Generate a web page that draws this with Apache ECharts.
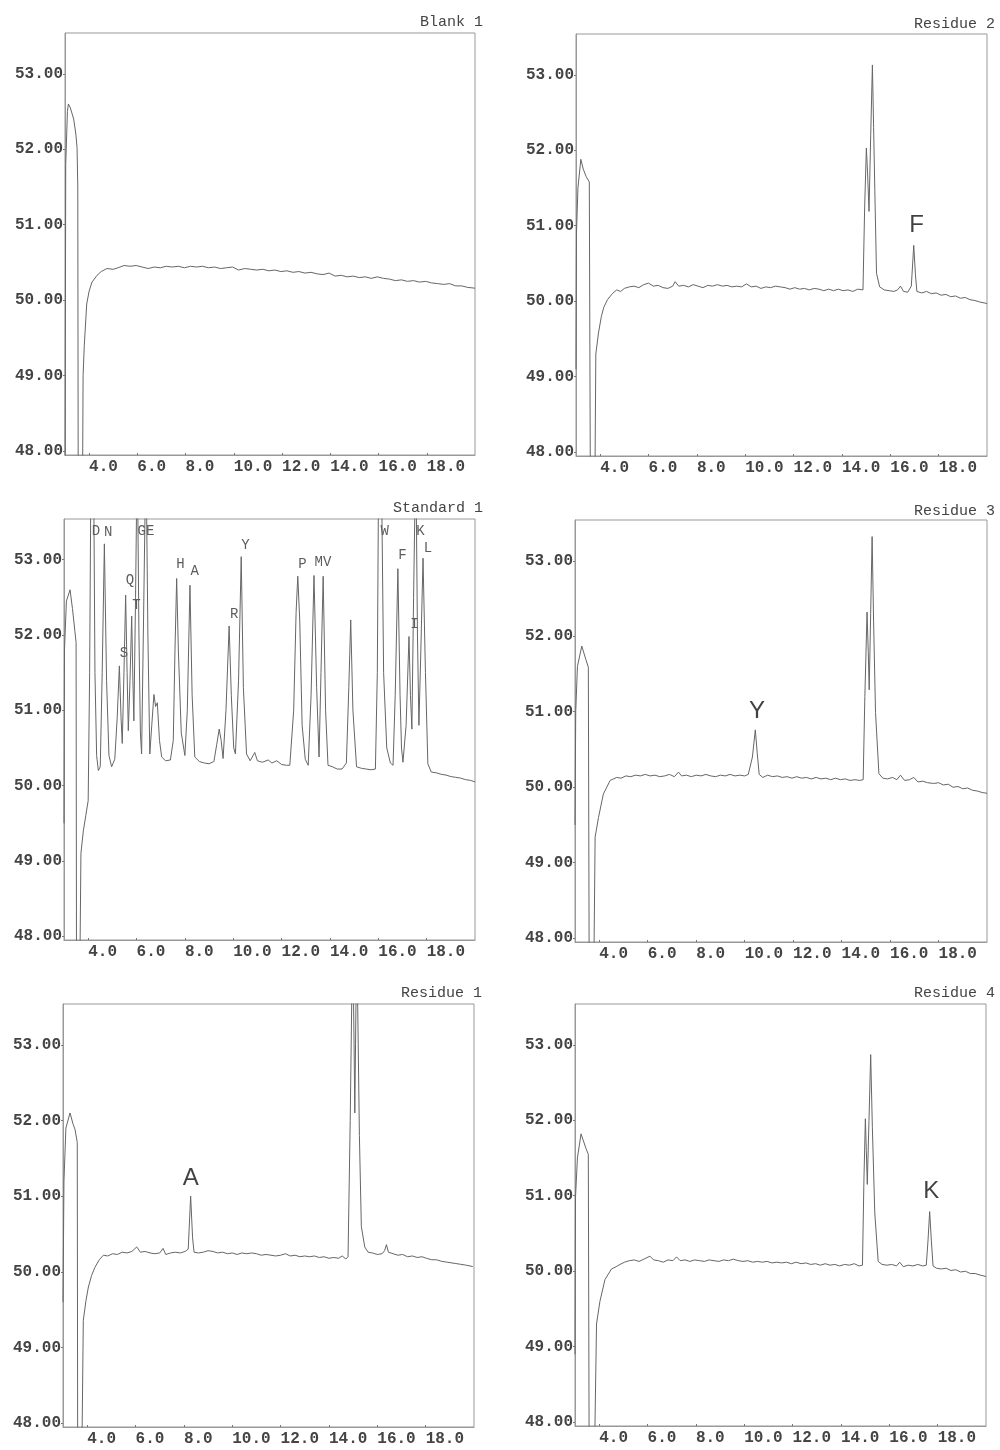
<!DOCTYPE html>
<html>
<head>
<meta charset="utf-8">
<title>Chromatograms</title>
<script src="https://cdn.jsdelivr.net/npm/echarts@6/dist/echarts.min.js"></script>
<style>
  html, body { margin: 0; padding: 0; background: #fff; }
  #main { width: 1000px; height: 1450px; }
</style>
</head>
<body>
<div id="main"></div>
<script>
// 坐标轴刻度
const timeTicks = [4, 6, 8, 10, 12, 14, 16, 18]
const signalTicks = [48, 49, 50, 51, 52, 53]

const panelTitles = ['Blank 1', 'Residue 2', 'Standard 1', 'Residue 3', 'Residue 1', 'Residue 4']

// 各色谱图 [时间, 信号]
const blank1 = [
  [3.0, 47.5], [3.03, 51.8], [3.1, 52.5], [3.14, 52.6], [3.22, 52.55], [3.36, 52.4], [3.45, 52.2], [3.5, 52.02],
  [3.53, 51.5], [3.55, 47.0], [3.72, 47.0], [3.75, 49.0], [3.8, 49.4], [3.9, 49.95], [4.0, 50.12], [4.12, 50.24],
  [4.33, 50.33], [4.5, 50.38], [4.74, 50.42], [5.0, 50.41], [5.2, 50.43], [5.45, 50.46], [5.7, 50.45], [5.95, 50.46],
  [6.2, 50.44], [6.45, 50.42], [6.7, 50.44], [6.95, 50.43], [7.2, 50.45], [7.45, 50.44], [7.7, 50.45], [7.95, 50.43],
  [8.2, 50.45], [8.45, 50.44], [8.7, 50.45], [8.95, 50.43], [9.2, 50.44], [9.45, 50.42], [9.7, 50.43], [9.95, 50.44],
  [10.2, 50.4], [10.45, 50.42], [10.7, 50.41], [10.95, 50.4], [11.2, 50.41], [11.45, 50.39], [11.7, 50.4],
  [11.95, 50.38], [12.2, 50.39], [12.45, 50.37], [12.7, 50.38], [12.95, 50.36], [13.2, 50.37], [13.45, 50.35],
  [13.7, 50.34], [13.95, 50.36], [14.2, 50.32], [14.45, 50.33], [14.7, 50.31], [14.95, 50.32], [15.2, 50.3],
  [15.45, 50.31], [15.7, 50.29], [15.95, 50.31], [16.2, 50.29], [16.45, 50.28], [16.7, 50.26], [16.95, 50.27],
  [17.2, 50.25], [17.45, 50.26], [17.7, 50.24], [17.95, 50.25], [18.2, 50.23], [18.45, 50.22], [18.7, 50.21],
  [18.95, 50.22], [19.2, 50.19], [19.45, 50.19], [19.7, 50.17], [20.0, 50.16]
]

const residue2 = [
  [3.0, 49.1], [3.02, 50.9], [3.08, 51.5], [3.2, 51.88], [3.3, 51.75], [3.42, 51.65], [3.55, 51.58], [3.6, 47.0],
  [3.77, 47.0], [3.82, 49.3], [3.93, 49.58], [4.05, 49.8], [4.15, 49.92], [4.3, 50.02], [4.5, 50.1], [4.68, 50.15],
  [4.85, 50.13], [5.0, 50.17], [5.2, 50.19], [5.4, 50.2], [5.6, 50.18], [5.8, 50.22], [6.0, 50.24], [6.2, 50.2],
  [6.4, 50.21], [6.6, 50.18], [6.8, 50.17], [7.0, 50.2], [7.1, 50.26], [7.25, 50.2], [7.45, 50.21], [7.65, 50.19],
  [7.85, 50.22], [8.05, 50.2], [8.25, 50.18], [8.45, 50.21], [8.65, 50.2], [8.85, 50.22], [9.05, 50.2], [9.25, 50.21],
  [9.45, 50.19], [9.65, 50.2], [9.85, 50.19], [10.05, 50.23], [10.25, 50.19], [10.45, 50.2], [10.65, 50.17],
  [10.85, 50.19], [11.05, 50.18], [11.25, 50.2], [11.45, 50.19], [11.65, 50.18], [11.85, 50.16], [12.05, 50.18],
  [12.25, 50.16], [12.45, 50.17], [12.65, 50.15], [12.85, 50.17], [13.05, 50.16], [13.25, 50.14], [13.45, 50.16],
  [13.65, 50.14], [13.85, 50.16], [14.05, 50.14], [14.25, 50.15], [14.45, 50.13], [14.65, 50.16], [14.87, 50.15],
  [14.94, 51.25], [15.01, 52.03], [15.06, 51.7], [15.12, 51.19], [15.19, 52.2], [15.26, 53.13], [15.31, 52.3],
  [15.36, 51.47], [15.43, 50.37], [15.56, 50.19], [15.75, 50.15], [15.95, 50.14], [16.15, 50.13], [16.3, 50.15],
  [16.42, 50.2], [16.55, 50.13], [16.72, 50.12], [16.87, 50.2], [16.97, 50.74], [17.04, 50.35], [17.1, 50.13],
  [17.3, 50.11], [17.5, 50.13], [17.7, 50.1], [17.9, 50.11], [18.1, 50.08], [18.3, 50.09], [18.5, 50.06],
  [18.7, 50.07], [18.9, 50.04], [19.1, 50.05], [19.3, 50.02], [19.5, 50.01], [19.7, 49.99], [20.0, 49.97]
]

const standard1 = [
  [3.0, 49.5], [3.02, 51.8], [3.1, 52.45], [3.25, 52.6], [3.35, 52.35], [3.45, 52.05], [3.5, 51.9], [3.52, 47.0],
  [3.64, 47.0], [3.7, 49.1], [3.8, 49.4], [3.9, 49.6], [4.0, 49.8], [4.06, 51.5], [4.12, 54.5], [4.22, 54.5],
  [4.28, 51.5], [4.35, 50.4], [4.42, 50.2], [4.5, 50.25], [4.58, 51.5], [4.67, 53.21], [4.76, 51.4], [4.86, 50.4],
  [4.97, 50.25], [5.1, 50.35], [5.2, 50.9], [5.29, 51.59], [5.36, 50.9], [5.41, 50.56], [5.48, 51.5], [5.55, 52.53],
  [5.61, 51.5], [5.66, 50.73], [5.73, 51.4], [5.8, 52.25], [5.85, 51.4], [5.89, 50.86], [5.96, 52.5], [6.03, 54.5],
  [6.1, 52.0], [6.16, 50.7], [6.21, 50.42], [6.29, 52.2], [6.39, 54.5], [6.47, 52.0], [6.55, 50.42], [6.63, 50.8],
  [6.72, 51.21], [6.79, 51.05], [6.86, 51.1], [6.95, 50.6], [7.04, 50.38], [7.2, 50.33], [7.4, 50.34], [7.52, 50.6],
  [7.59, 51.8], [7.66, 52.75], [7.73, 51.8], [7.85, 50.7], [8.0, 50.4], [8.1, 51.0], [8.21, 52.66], [8.3, 51.2],
  [8.41, 50.38], [8.6, 50.32], [8.8, 50.3], [9.0, 50.29], [9.2, 50.32], [9.32, 50.55], [9.42, 50.75], [9.5, 50.6],
  [9.58, 50.36], [9.7, 51.0], [9.83, 52.12], [9.92, 51.2], [10.02, 50.5], [10.09, 50.42], [10.22, 51.4],
  [10.33, 53.04], [10.42, 51.3], [10.55, 50.42], [10.7, 50.33], [10.89, 50.44], [11.0, 50.33], [11.2, 50.31],
  [11.45, 50.34], [11.6, 50.3], [11.8, 50.33], [12.0, 50.28], [12.2, 50.27], [12.34, 50.27], [12.5, 51.0],
  [12.6, 52.3], [12.67, 52.78], [12.75, 52.2], [12.85, 50.8], [12.98, 50.35], [13.1, 50.27], [13.22, 51.2],
  [13.34, 52.79], [13.45, 51.3], [13.55, 50.38], [13.63, 51.5], [13.72, 52.78], [13.82, 51.0], [13.92, 50.27],
  [14.1, 50.25], [14.3, 50.22], [14.5, 50.22], [14.68, 50.3], [14.78, 51.3], [14.86, 52.2], [14.95, 51.0],
  [15.1, 50.25], [15.3, 50.23], [15.5, 50.22], [15.7, 50.21], [15.88, 50.22], [15.96, 51.5], [16.02, 54.5],
  [16.12, 54.5], [16.22, 51.5], [16.35, 50.5], [16.5, 50.3], [16.61, 50.27], [16.7, 51.2], [16.81, 52.88],
  [16.9, 51.2], [16.96, 50.5], [17.02, 50.31], [17.15, 50.8], [17.27, 51.98], [17.33, 51.2], [17.39, 50.75],
  [17.46, 52.5], [17.55, 54.5], [17.62, 52.0], [17.68, 50.8], [17.76, 51.8], [17.85, 53.02], [17.95, 51.5],
  [18.05, 50.29], [18.19, 50.18], [18.4, 50.17], [18.6, 50.15], [18.8, 50.14], [19.0, 50.12], [19.2, 50.11],
  [19.4, 50.1], [19.6, 50.08], [19.8, 50.07], [20.0, 50.05]
]

const residue3 = [
  [3.0, 49.5], [3.03, 51.0], [3.1, 51.6], [3.28, 51.87], [3.45, 51.69], [3.55, 51.59], [3.59, 47.0],
  [3.76, 47.0], [3.83, 49.34], [3.97, 49.6], [4.17, 49.91], [4.45, 50.09], [4.72, 50.13], [4.9, 50.12],
  [5.1, 50.15], [5.3, 50.14], [5.5, 50.16], [5.7, 50.15], [5.9, 50.17], [6.1, 50.15], [6.3, 50.16],
  [6.5, 50.14], [6.7, 50.15], [6.9, 50.17], [7.1, 50.14], [7.27, 50.2], [7.4, 50.15], [7.6, 50.16], [7.8, 50.14],
  [8.0, 50.16], [8.2, 50.15], [8.4, 50.17], [8.6, 50.15], [8.8, 50.14], [9.0, 50.16], [9.2, 50.15], [9.4, 50.17],
  [9.6, 50.15], [9.8, 50.16], [10.0, 50.15], [10.15, 50.17], [10.32, 50.4], [10.44, 50.76], [10.52, 50.45],
  [10.6, 50.17], [10.75, 50.13], [10.95, 50.16], [11.15, 50.14], [11.35, 50.15], [11.55, 50.13], [11.75, 50.14],
  [11.95, 50.12], [12.15, 50.14], [12.35, 50.12], [12.55, 50.13], [12.75, 50.11], [12.95, 50.13], [13.15, 50.11],
  [13.35, 50.12], [13.55, 50.1], [13.75, 50.12], [13.95, 50.1], [14.15, 50.11], [14.35, 50.09], [14.55, 50.1],
  [14.75, 50.09], [14.89, 50.1], [14.96, 51.2], [15.05, 52.32], [15.1, 51.8], [15.14, 51.29], [15.2, 52.3],
  [15.26, 53.32], [15.32, 52.2], [15.4, 50.99], [15.54, 50.18], [15.7, 50.12], [15.9, 50.11], [16.1, 50.13],
  [16.28, 50.1], [16.43, 50.16], [16.6, 50.09], [16.8, 50.1], [16.98, 50.13], [17.15, 50.07], [17.35, 50.08],
  [17.55, 50.06], [17.8, 50.05], [18.0, 50.06], [18.2, 50.03], [18.4, 50.04], [18.6, 50.0], [18.8, 50.01],
  [19.0, 49.98], [19.2, 49.99], [19.4, 49.96], [19.6, 49.95], [19.8, 49.93], [20.0, 49.92]
]

const residue1 = [
  [3.0, 49.6], [3.04, 51.2], [3.12, 51.9], [3.29, 52.1], [3.42, 51.95], [3.5, 51.88], [3.59, 51.71], [3.61, 47.0],
  [3.76, 47.0], [3.84, 49.36], [3.95, 49.62], [4.05, 49.8], [4.18, 49.95], [4.32, 50.06], [4.5, 50.16], [4.67, 50.22],
  [4.85, 50.21], [5.05, 50.24], [5.25, 50.23], [5.45, 50.26], [5.65, 50.25], [5.85, 50.27], [6.05, 50.33], [6.2, 50.26],
  [6.4, 50.27], [6.6, 50.25], [6.8, 50.24], [7.0, 50.25], [7.14, 50.31], [7.25, 50.23], [7.45, 50.25], [7.65, 50.26],
  [7.85, 50.25], [8.05, 50.27], [8.18, 50.3], [8.28, 51.0], [8.36, 50.45], [8.42, 50.26], [8.6, 50.25], [8.8, 50.26],
  [9.0, 50.28], [9.2, 50.27], [9.4, 50.25], [9.6, 50.26], [9.8, 50.24], [10.0, 50.25], [10.2, 50.23], [10.4, 50.25],
  [10.6, 50.24], [10.8, 50.25], [11.0, 50.24], [11.2, 50.22], [11.4, 50.23], [11.6, 50.22], [11.8, 50.21], [12.0, 50.22],
  [12.2, 50.24], [12.4, 50.21], [12.6, 50.22], [12.8, 50.2], [13.0, 50.21], [13.2, 50.2], [13.4, 50.21], [13.6, 50.19],
  [13.8, 50.2], [14.0, 50.18], [14.2, 50.19], [14.4, 50.18], [14.55, 50.21], [14.7, 50.17], [14.79, 50.2],
  [14.88, 52.0], [14.98, 54.5], [15.04, 53.0], [15.07, 52.1], [15.1, 53.0], [15.15, 54.5], [15.26, 51.8],
  [15.34, 50.6], [15.48, 50.33], [15.62, 50.26], [15.8, 50.25], [16.0, 50.23], [16.2, 50.24], [16.3, 50.28],
  [16.38, 50.36], [16.46, 50.26], [16.65, 50.24], [16.85, 50.22], [17.05, 50.23], [17.25, 50.2], [17.45, 50.21],
  [17.65, 50.19], [17.85, 50.2], [18.03, 50.18], [18.25, 50.16], [18.45, 50.16], [18.65, 50.14], [18.85, 50.13],
  [19.05, 50.12], [19.25, 50.11], [19.45, 50.1], [19.65, 50.09], [19.95, 50.07]
]

const residue4 = [
  [3.0, 48.9], [3.02, 50.97], [3.1, 51.5], [3.25, 51.82], [3.45, 51.63], [3.55, 51.55], [3.59, 47.0],
  [3.78, 47.0], [3.89, 49.3], [4.03, 49.6], [4.24, 49.89], [4.51, 50.03], [4.7, 50.06], [4.86, 50.09],
  [5.05, 50.12], [5.25, 50.14], [5.45, 50.15], [5.65, 50.13], [5.85, 50.16], [6.1, 50.2], [6.25, 50.15],
  [6.45, 50.14], [6.65, 50.12], [6.85, 50.15], [7.05, 50.14], [7.2, 50.19], [7.35, 50.14], [7.55, 50.15],
  [7.75, 50.13], [7.95, 50.15], [8.15, 50.14], [8.35, 50.13], [8.55, 50.15], [8.75, 50.14], [8.95, 50.13],
  [9.15, 50.15], [9.35, 50.14], [9.55, 50.16], [9.75, 50.14], [9.95, 50.13], [10.15, 50.14], [10.35, 50.12],
  [10.55, 50.13], [10.75, 50.12], [10.95, 50.13], [11.15, 50.11], [11.35, 50.12], [11.55, 50.11], [11.75, 50.12],
  [11.95, 50.1], [12.15, 50.12], [12.35, 50.1], [12.55, 50.11], [12.75, 50.09], [12.95, 50.1], [13.15, 50.08],
  [13.35, 50.1], [13.55, 50.08], [13.75, 50.09], [13.95, 50.07], [14.15, 50.09], [14.35, 50.08], [14.55, 50.1],
  [14.75, 50.07], [14.89, 50.08], [14.95, 51.2], [15.01, 52.02], [15.05, 51.6], [15.09, 51.15], [15.16, 52.0],
  [15.23, 52.87], [15.3, 51.9], [15.4, 50.77], [15.54, 50.13], [15.7, 50.09], [15.9, 50.08], [16.1, 50.09],
  [16.3, 50.07], [16.43, 50.12], [16.58, 50.06], [16.78, 50.08], [16.98, 50.07], [17.18, 50.09], [17.38, 50.07],
  [17.53, 50.08], [17.6, 50.4], [17.67, 50.79], [17.74, 50.4], [17.81, 50.07], [17.95, 50.04], [18.15, 50.03],
  [18.35, 50.04], [18.55, 50.01], [18.75, 50.02], [18.95, 49.99], [19.15, 50.0], [19.35, 49.97], [19.55, 49.97],
  [19.75, 49.95], [20.0, 49.93]
]

// 标准品峰标注
const stdPeakNames = ['D', 'N', 'GE', 'Q', 'T', 'S', 'H', 'A', 'Y', 'R', 'P', 'MV', 'W', 'F', 'K', 'L', 'I']
const stdPeakX = [4.32, 4.83, 6.39, 5.73, 6.0, 5.48, 7.82, 8.41, 10.51, 10.04, 12.86, 13.71, 16.26, 17.0, 17.74, 18.05, 17.5]
const stdPeakY = [53.38, 53.36, 53.38, 52.72, 52.39, 51.76, 52.94, 52.84, 53.19, 52.28, 52.94, 52.97, 53.38, 53.06, 53.38, 53.15, 52.14]

// 样品峰标注
const residueMarkNames = ['F', 'Y', 'A', 'K']
const residueMarkPanel = [1, 3, 4, 5]
const residueMarkX = [17.09, 10.51, 8.28, 17.74]
const residueMarkY = [51.01, 51.0, 51.24, 51.06]

const traces = [blank1, residue2, standard1, residue3, residue1, residue4]

const myChart = echarts.init(document.querySelector('#main'))

const gridPos = [
  { left: 65, top: 33, width: 410, height: 422 },
  { left: 576, top: 34, width: 411, height: 422 },
  { left: 64, top: 519, width: 411, height: 421 },
  { left: 575, top: 520, width: 412, height: 422 },
  { left: 63, top: 1004, width: 411, height: 423 },
  { left: 575, top: 1004, width: 411, height: 422 }
]
const titlePos = [
  { right: 517, top: 15 }, { right: 5, top: 17 },
  { right: 517, top: 501 }, { right: 5, top: 504 },
  { right: 518, top: 986 }, { right: 5, top: 986 }
]

const font = 'Liberation Mono'
const textColor = '#444'

const series = traces.map((trace, i) => ({
  type: 'line',
  xAxisIndex: i,
  yAxisIndex: i,
  data: trace,
  showSymbol: false,
  clip: true,
  silent: true,
  lineStyle: { width: 1, color: '#666' }
}))

series.push({
  type: 'scatter',
  xAxisIndex: 2,
  yAxisIndex: 2,
  symbolSize: 0,
  silent: true,
  data: stdPeakNames.map((n, k) => ({ name: n, value: [stdPeakX[k], stdPeakY[k]] })),
  label: {
    show: true,
    position: 'inside',
    formatter: p => p.name,
    fontFamily: font,
    fontSize: 14,
    color: '#333'
  }
})

residueMarkNames.forEach((n, k) => {
  series.push({
    type: 'scatter',
    xAxisIndex: residueMarkPanel[k],
    yAxisIndex: residueMarkPanel[k],
    symbolSize: 0,
    silent: true,
    data: [{ name: n, value: [residueMarkX[k], residueMarkY[k]] }],
    label: {
      show: true,
      position: 'inside',
      formatter: p => p.name,
      fontFamily: 'Liberation Sans',
      fontSize: 24,
      color: '#111'
    }
  })
})

const option = {
  animation: false,
  backgroundColor: '#fff',
  title: panelTitles.map((t, i) => ({
    text: t,
    ...titlePos[i],
    padding: 0,
    textStyle: { fontFamily: font, fontSize: 15, fontWeight: 'normal', color: textColor }
  })),
  grid: gridPos.map(g => ({ ...g, show: true, borderColor: '#999', borderWidth: 1, backgroundColor: 'transparent' })),
  xAxis: gridPos.map((g, i) => ({
    type: 'value',
    gridIndex: i,
    min: 3,
    max: 20,
    axisLine: { show: true, onZero: false, lineStyle: { color: '#999' } },
    axisTick: { show: true, inside: true, length: 2, customValues: timeTicks, lineStyle: { color: '#777' } },
    splitLine: { show: false },
    axisLabel: {
      customValues: timeTicks,
      formatter: v => v.toFixed(1),
      align: 'left',
      margin: 4,
      fontFamily: font,
      fontSize: 16,
      fontWeight: 'bold',
      color: textColor
    }
  })),
  yAxis: gridPos.map((g, i) => ({
    type: 'value',
    gridIndex: i,
    min: 47.95,
    max: 53.54,
    axisLine: { show: true, onZero: false, lineStyle: { color: '#999' } },
    axisTick: { show: true, length: 2, customValues: signalTicks, lineStyle: { color: '#777' } },
    splitLine: { show: false },
    axisLabel: {
      customValues: signalTicks,
      formatter: v => v.toFixed(2),
      margin: 2,
      fontFamily: font,
      fontSize: 16,
      fontWeight: 'bold',
      color: textColor
    }
  })),
  series: series
}

myChart.setOption(option)
</script>
</body>
</html>
